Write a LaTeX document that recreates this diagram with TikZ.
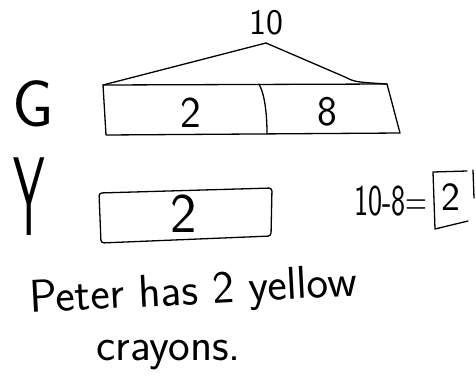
\documentclass[tikz,border=0pt]{standalone}
\usepackage{fontspec}
\begin{document}
\begin{tikzpicture}[x=1pt,y=-1pt,
  pen/.style={line width=1.3pt, line join=round, line cap=round},
  hand/.style={font=\sffamily, inner sep=0pt}]
\useasboundingbox[fill=white] (0,0) rectangle (476,381);
% top total
\node[hand] (ten) at (266,23) {\fontsize{36}{36}\selectfont 10};
\coordinate (apex) at (266,43);
% G bar
\coordinate (gTL) at (103,85);
\coordinate (gTR) at (387,84);
\coordinate (gBR) at (400,133);
\coordinate (gBL) at (106,135);
\coordinate (gDT) at (259,84);
\coordinate (gDB) at (267,134);
\coordinate (gR1) at (345,77);
\draw[pen] (gTL) -- (gTR) -- (gBR) -- (gBL) -- cycle;
\draw[pen] (gDT) .. controls (265,95) and (267,115) .. (gDB);
\draw[pen] (gTL) -- (apex);
\draw[pen] (apex) -- (gR1) .. controls (355,82) .. (gTR);
\node[hand] (g2) at (191,113) {\fontsize{44}{44}\selectfont 2};
\node[hand] (g8) at (327,112) {\fontsize{42}{42}\selectfont 8};
\node[hand] (G) at (33,104) {\fontsize{66}{66}\selectfont G};
% Y bar
\node[hand, xscale=0.45] (Y) at (29,197) {\fontsize{112}{112}\selectfont Y};
\draw[pen, rounded corners=3pt] (99,193) -- (272,188) -- (271,236) -- (101,243) -- cycle;
\node[hand] (y2) at (184,214) {\fontsize{56}{56}\selectfont 2};
% equation
\node[hand, xscale=0.68, anchor=base west] (eq) at (354,215) {\fontsize{44}{44}\selectfont 10-8=};
\node[hand] (ans) at (451,197) {\fontsize{40}{40}\selectfont 2};
\coordinate (aTR) at (467,171);
\coordinate (aTL) at (433,172);
\coordinate (aBL) at (435,229);
\coordinate (aBR) at (468,221);
\coordinate (aRt) at (473,170);
\coordinate (aRb) at (474,198);
\draw[pen] (aTR) -- (aTL) -- (aBL) -- (aBR);
\draw[pen] (aRt) -- (aRb);
% sentence
\node[hand, anchor=base west, rotate=3] (s1) at (30,313) {\fontsize{46}{46}\selectfont Peter has 2 yellow};
\node[hand, anchor=base west] (s2) at (96,360) {\fontsize{46}{46}\selectfont crayons.};
\end{tikzpicture}
\end{document}
